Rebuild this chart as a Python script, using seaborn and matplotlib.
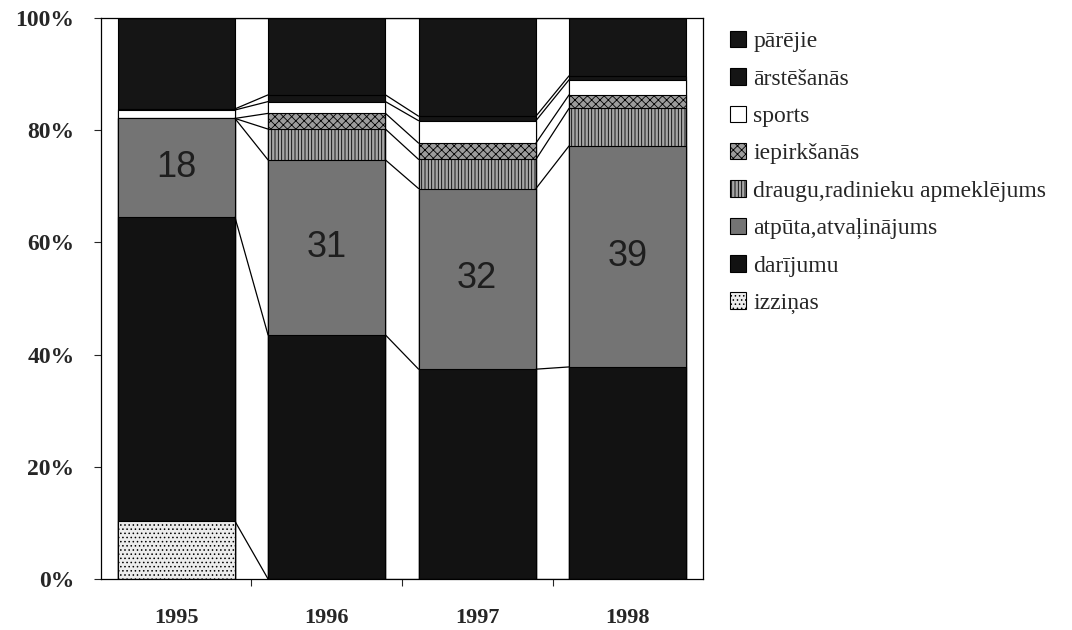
import matplotlib
matplotlib.use('Agg')
import matplotlib.pyplot as plt
import pandas as pd
import seaborn as sns

# dati (procenti), nolasīti no attēla
years = ['1995', '1996', '1997', '1998']
izzinas = [10.3, 0, 0, 0]
darijumu = [54.2, 43.5, 37.4, 37.8]
atputa = [17.6, 31.2, 32.2, 39.4]
draugu = [0, 5.5, 5.2, 6.7]
iepirksanas = [0, 2.8, 2.9, 2.4]
sports = [1.5, 2.1, 4.0, 2.7]
arstesanas = [0.2, 1.2, 0.8, 0.7]
parejie = [16.2, 13.7, 17.5, 10.3]

names = ['izziņas', 'darījumu', 'atpūta,atvaļinājums', 'draugu,radinieku apmeklējums',
         'iepirkšanās', 'sports', 'ārstēšanās', 'pārējie']

df = pd.DataFrame({
    names[0]: izzinas, names[1]: darijumu, names[2]: atputa, names[3]: draugu,
    names[4]: iepirksanas, names[5]: sports, names[6]: arstesanas, names[7]: parejie,
}, index=years)
cum = df.cumsum(axis=1)

styles = {
    'izziņas': ('#ececec', '....'),
    'darījumu': ('#121212', None),
    'atpūta,atvaļinājums': ('#747474', None),
    'draugu,radinieku apmeklējums': ('#a6a6a6', '|||||'),
    'iepirkšanās': ('#9c9c9c', 'xxxx'),
    'sports': ('white', None),
    'ārstēšanās': ('#151515', None),
    'pārējie': ('#151515', None),
}

sns.set_style('white')
plt.rcParams['font.family'] = ['Liberation Serif', 'DejaVu Serif']
plt.rcParams['hatch.linewidth'] = 0.6

fig = plt.figure(figsize=(10.72, 6.3), dpi=100)
ax = fig.add_axes([0.0942, 0.081, 0.5616, 0.8904])

# pārklāj kumulatīvos stabiņus no augšējā uz apakšējo
tops = {}
for name in names[::-1]:
    col, hatch = styles[name]
    sns.barplot(x=years, y=cum[name].values, color=col, saturation=1, width=0.78,
                edgecolor='black', linewidth=0.8, hatch=hatch, label=name, ax=ax)
    tops[name] = ax.containers[-1]

# sēriju līnijas starp stabiņiem
for name in names:
    bars = list(tops[name])
    for a, b in zip(bars[:-1], bars[1:]):
        ax.plot([a.get_x() + a.get_width(), b.get_x()], [a.get_height(), b.get_height()],
                color='black', lw=0.9, zorder=3)

# atpūtas vērtības
for i, y in enumerate(years):
    mid = cum[names[1]].iloc[i] + atputa[i] / 2
    ax.text(i, mid, f'{round(atputa[i])}', ha='center', va='center', fontsize=26,
            family='Liberation Sans', color='#1e1e1e')

ax.set_ylim(0, 100)
ax.set_xlim(-0.5, 3.5)
ax.set_yticks(range(0, 101, 20))
ax.set_yticklabels([f'{v}%' for v in range(0, 101, 20)], fontsize=17, fontweight='bold')
ax.set_xticks(range(4))
ax.set_xticklabels(years, fontsize=16, fontweight='bold')
ax.set_xticks([0.5, 1.5, 2.5], minor=True)
ax.tick_params(axis='x', which='major', length=0, pad=21)
ax.tick_params(axis='x', which='minor', length=5, width=0.8, direction='out', bottom=True)
ax.tick_params(axis='y', length=5, width=0.8, direction='out', left=True, pad=14)
ax.set_xlabel('')
ax.set_ylabel('')
for s in ax.spines.values():
    s.set_color('black')
    s.set_linewidth(0.9)

ax.legend(loc='upper left', bbox_to_anchor=(0.672, 0.966), bbox_transform=fig.transFigure,
          frameon=False, fontsize=17, handlelength=0.7, handleheight=0.7,
          handletextpad=0.3, labelspacing=0.67, borderaxespad=0)

fig.savefig('out.png', dpi=100)
